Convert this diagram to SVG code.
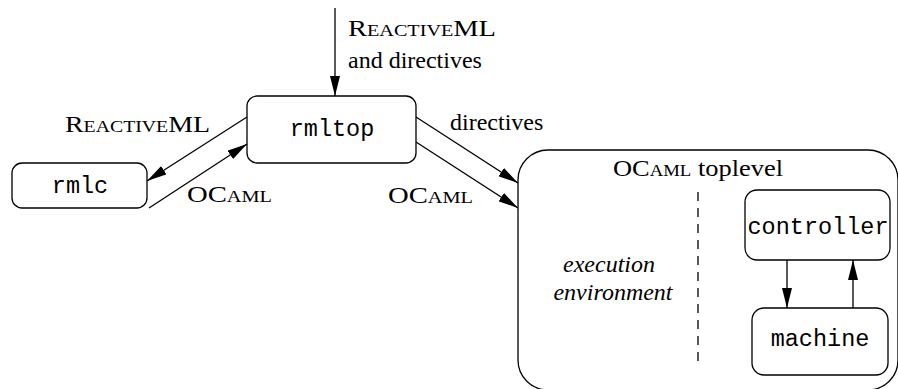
<svg xmlns="http://www.w3.org/2000/svg" width="898" height="389" viewBox="0 0 898 389">
<defs>
<marker id="ah" viewBox="0 0 20 10" refX="20" refY="5" markerWidth="20" markerHeight="10" markerUnits="userSpaceOnUse" orient="auto">
<path d="M0,0 L20,5 L0,10 Z" fill="#000"/>
</marker>
<style>
.box{fill:#fff;stroke:#000;stroke-width:1.3}
.mono{font-family:"Liberation Mono",monospace;font-size:23.5px;text-anchor:middle}
.serif{font-family:"Liberation Serif",serif;font-size:24px}
.sc{font-variant:small-caps}
.it{font-style:italic}
.conn{stroke:#000;stroke-width:1.3;fill:none;marker-end:url(#ah)}
</style>
</defs>
<rect width="898" height="389" fill="#fff"/>
<g id="toplevel">
<rect class="box" x="518" y="150" width="380" height="240" rx="30"/>
<text class="serif" x="613" y="176" textLength="170" lengthAdjust="spacingAndGlyphs"><tspan class="sc">OCaml</tspan> toplevel</text>
<text class="serif it" x="609" y="272" text-anchor="middle">execution</text>
<text class="serif it" x="613" y="300" text-anchor="middle">environment</text>
<line x1="698" y1="192" x2="698" y2="364" stroke="#000" stroke-width="1.3" stroke-dasharray="9,7"/>
</g>
<g id="rmltop">
<rect class="box" x="247" y="96" width="169" height="67" rx="10"/>
<text class="mono" x="332" y="136">rmltop</text>
</g>
<g id="rmlc">
<rect class="box" x="12" y="163" width="135" height="45" rx="10"/>
<text class="mono" x="80" y="193">rmlc</text>
</g>
<g id="controller">
<rect class="box" x="745" y="190" width="145" height="70" rx="12"/>
<text class="mono" x="818" y="234">controller</text>
</g>
<g id="machine">
<rect class="box" x="752" y="308" width="136" height="67" rx="12"/>
<text class="mono" x="820" y="346">machine</text>
</g>
<g id="connectors">
<line class="conn" x1="335" y1="8" x2="335" y2="96"/>
<line class="conn" x1="247" y1="117" x2="147" y2="181"/>
<line class="conn" x1="149" y1="208" x2="247" y2="144"/>
<line class="conn" x1="416" y1="117" x2="518" y2="183"/>
<line class="conn" x1="416" y1="142" x2="518" y2="208"/>
<line class="conn" x1="787" y1="260" x2="787" y2="308"/>
<line class="conn" x1="853" y1="308" x2="853" y2="260"/>
</g>
<g id="labels">
<text class="serif sc" x="348" y="36" textLength="148" lengthAdjust="spacingAndGlyphs">ReactiveML</text>
<text class="serif" x="348" y="68">and directives</text>
<text class="serif" x="450" y="130">directives</text>
<text class="serif sc" x="65" y="132" textLength="145" lengthAdjust="spacingAndGlyphs">ReactiveML</text>
<text class="serif sc" x="187" y="202" textLength="85" lengthAdjust="spacingAndGlyphs">OCaml</text>
<text class="serif sc" x="388" y="203" textLength="85" lengthAdjust="spacingAndGlyphs">OCaml</text>
</g>
</svg>
